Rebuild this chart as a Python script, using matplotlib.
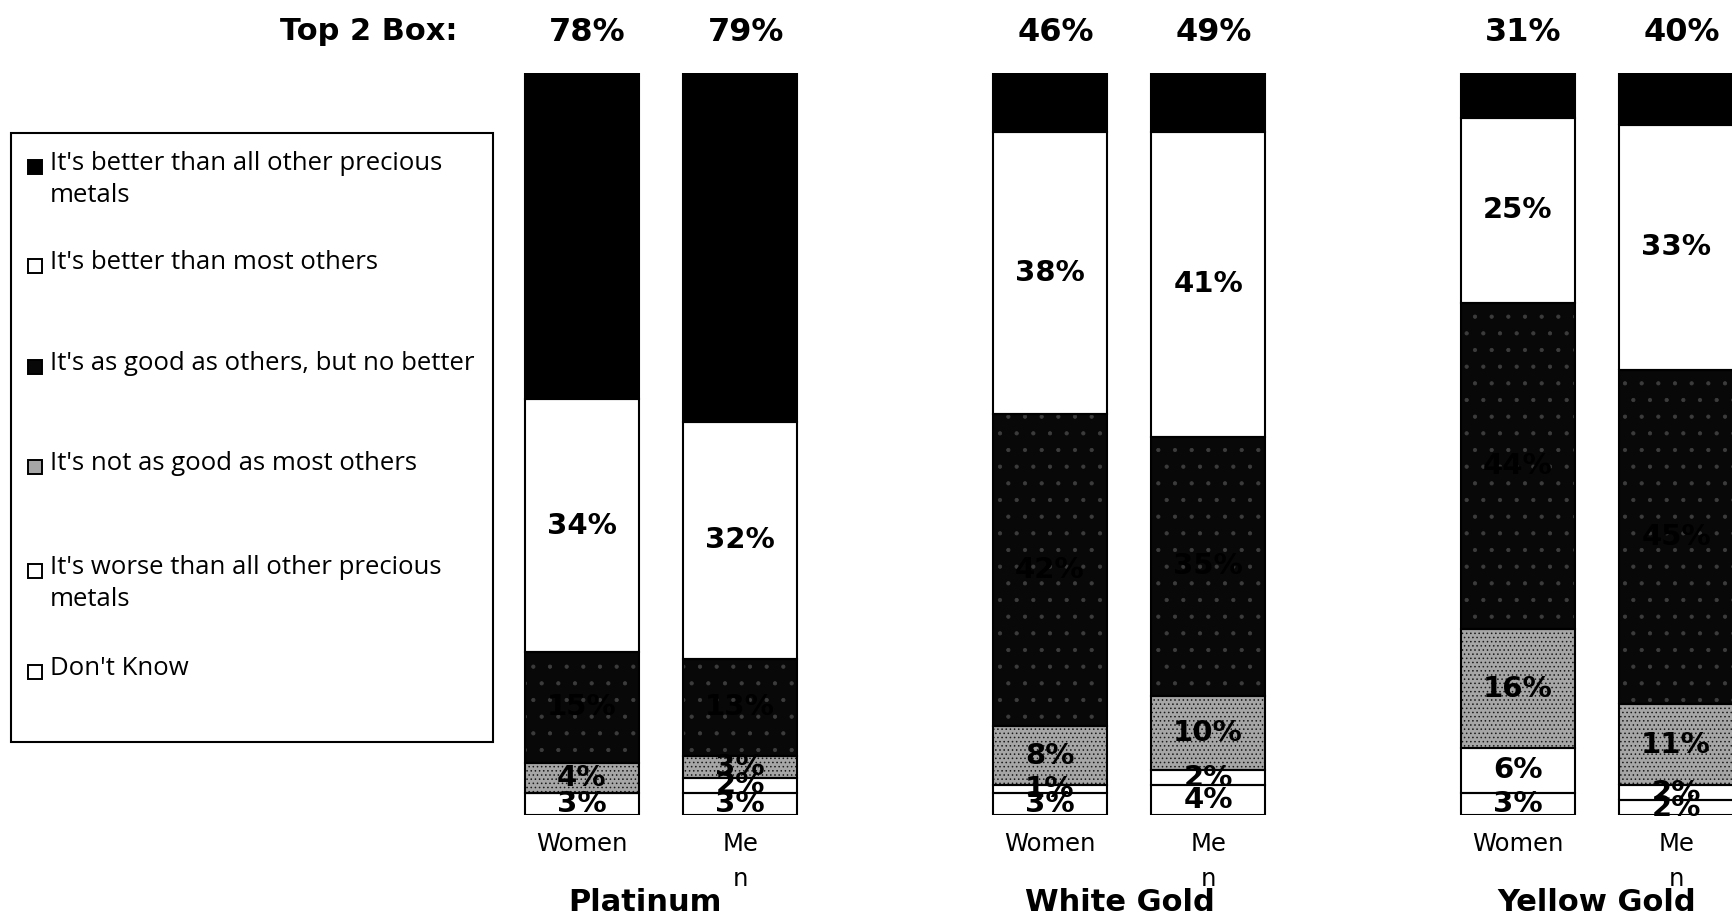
import matplotlib
matplotlib.use("Agg")
import matplotlib.pyplot as plt
from matplotlib.patches import Rectangle
import numpy as np

# ---- data -------------------------------------------------------------
metals = ["Platinum", "White Gold", "Yellow Gold"]
genders = ["Women", "Me\nn"]

responses = [
    "It's better than all other precious\nmetals",
    "It's better than most others",
    "It's as good as others, but no better",
    "It's not as good as most others",
    "It's worse than all other precious\nmetals",
    "Don't Know",
]

# one list per response, bars ordered Platinum W/M, White Gold W/M, Yellow Gold W/M
better_all = [44, 47, 8, 8, 6, 7]
better_most = [34, 32, 38, 41, 25, 33]
as_good = [15, 13, 42, 35, 44, 45]
not_as_good = [4, 3, 8, 10, 16, 11]
worse_all = [0, 2, 1, 2, 6, 2]
dont_know = [3, 3, 3, 4, 3, 2]

series = [better_all, better_most, as_good, not_as_good, worse_all, dont_know]

# ---- styling ----------------------------------------------------------
W, H, DPI = 1732, 921, 100
plt.rcParams["hatch.linewidth"] = 0.6
face = ["#000000", "#ffffff", "#080808", "#a6a6a6", "#ffffff", "#ffffff"]
hatch_col = ["#000000", "#ffffff", "#3c3c3c", "#1a1a1a", "#ffffff", "#ffffff"]
hatches = [None, None, ".", "....", None, None]

fig = plt.figure(figsize=(W / DPI, H / DPI), dpi=DPI)
fig.patch.set_facecolor("white")


def fx(px):
    return px / W


def fy(py):
    return 1 - py / H


ax = fig.add_axes([0, fy(815), 1, (815 - 73) / H])
ax.set_xlim(-661 / 468, (W - 661) / 468)
ax.set_ylim(0, 100)
ax.axis("off")

group_x = np.arange(len(metals))
offset = 0.169
bar_w = 0.244
x_pos = np.ravel([[g - offset, g + offset] for g in group_x])

# stacked bars, bottom segment = last response
bottom = np.zeros(len(x_pos))
stack_order = list(range(len(series)))[::-1]
bottoms = {}
for i in stack_order:
    vals = np.array(series[i], dtype=float)
    bottoms[i] = bottom.copy()
    ax.bar(x_pos, vals, bar_w, bottom=bottom, color=face[i],
           edgecolor=hatch_col[i], hatch=hatches[i], linewidth=0, zorder=2)
    ax.bar(x_pos, vals, bar_w, bottom=bottom, fill=False,
           edgecolor="black", linewidth=1.5, zorder=3)
    bottom += vals

# segment value labels (top segment is unlabeled)
for i in range(1, len(series)):
    for k, x in enumerate(x_pos):
        v = series[i][k]
        if v <= 0:
            continue
        ax.text(x, bottoms[i][k] + v / 2, f"{v}%", ha="center", va="center",
                fontsize=21, fontweight="bold", color="black",
                family="DejaVu Sans", zorder=4)

# Top 2 box totals above each bar
top2 = np.array(better_all) + np.array(better_most)
for x, t in zip(x_pos, top2):
    ax.text(x + 0.012, 105.5, f"{t}%", ha="center", va="center", fontsize=23,
            fontweight="bold", family="DejaVu Sans", clip_on=False)
fig.text(fx(458), fy(31), "Top 2 Box:", ha="right", va="center",
         fontsize=22, fontweight="bold", family="DejaVu Sans")

# bar labels and group titles
for k, x in enumerate(x_pos):
    ax.text(x, -2.3, genders[k % 2], ha="center", va="top", fontsize=17.5,
            family="DejaVu Sans", linespacing=1.55, clip_on=False)
title_shift = [-0.035, -0.02, 0.0]
for g, name, dx in zip(group_x, metals, title_shift):
    ax.text(g + dx, -11.8, name, ha="center", va="center", fontsize=22,
            fontweight="bold", family="DejaVu Sans", clip_on=False)

# legend box
fig.add_artist(Rectangle((fx(11), fy(742)), fx(493) - fx(11), fy(133) - fy(742),
                         transform=fig.transFigure, fill=False,
                         edgecolor="black", linewidth=1.5))
first_line_y = [167, 266, 367, 467, 571, 672]
for i, (label, yy) in enumerate(zip(responses, first_line_y)):
    s = 14
    fig.add_artist(Rectangle((fx(28), fy(yy + s / 2)), s / W, s / H,
                             transform=fig.transFigure, facecolor=face[i],
                             edgecolor="black", linewidth=1.4))
    fig.text(fx(50), fy(yy - 16), label, ha="left", va="top", fontsize=18.5,
             family="Open Sans", linespacing=1.35)

fig.savefig("out.png", dpi=DPI, facecolor="white")
